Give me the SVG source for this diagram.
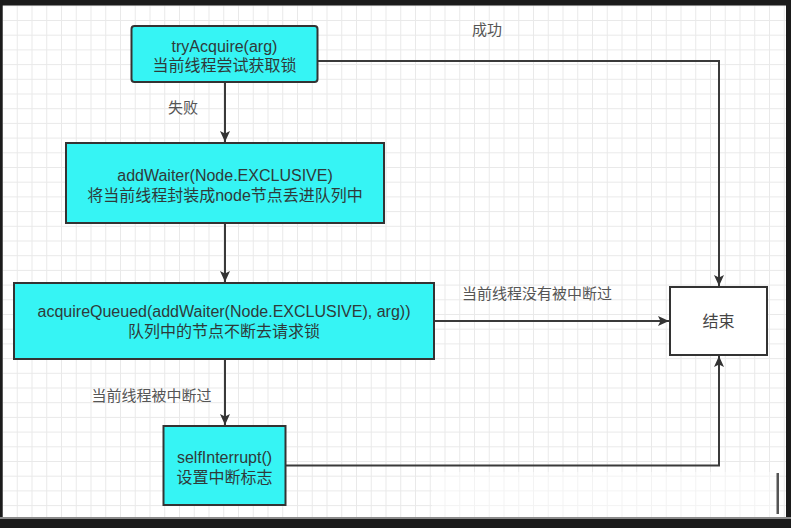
<svg xmlns="http://www.w3.org/2000/svg" width="791" height="528" viewBox="0 0 791 528">
<style>
.box{fill:#36F4F4;stroke:#333;stroke-width:2}
.end{fill:#fff;stroke:#333;stroke-width:2}
.t{font-family:"Liberation Sans","Noto Sans CJK SC",sans-serif;font-size:16px;fill:#2f3a3a;text-anchor:middle}
.lbl{font-family:"Liberation Sans","Noto Sans CJK SC",sans-serif;font-size:15px;fill:#555;text-anchor:middle}
.c{fill:none;stroke:#3a3a3a;stroke-width:2}
</style>
<defs>
<pattern id="grid" x="2" y="5.3" width="14.75" height="14.7" patternUnits="userSpaceOnUse">
<path d="M0.5,0 V14.7 M0,0.5 H14.75" fill="none" stroke="#e9e9e9" stroke-width="1"/>
</pattern>
<marker id="arr" markerUnits="userSpaceOnUse" markerWidth="12" markerHeight="12" viewBox="0 0 12 10" refX="11" refY="5" orient="auto">
<path d="M0,0 L11,5 L0,10 L2.5,5 Z" fill="#333"/>
</marker>
</defs>
<rect x="0" y="0" width="791" height="528" fill="#fff"/>
<rect x="0" y="0" width="791" height="528" fill="url(#grid)"/>
<rect x="432" y="472" width="348" height="45" fill="#fff" opacity="0.45"/>
<rect x="776.5" y="473" width="2.5" height="41" fill="#555"/>

<g id="connectors">
<path class="c" d="M225,82 V142" marker-end="url(#arr)"/>
<path class="c" d="M225,223 V282" marker-end="url(#arr)"/>
<path class="c" d="M225,359 V425" marker-end="url(#arr)"/>
<path class="c" d="M434,321 H669" marker-end="url(#arr)"/>
<path class="c" d="M317,61 H719 V286" marker-end="url(#arr)"/>
<path class="c" d="M286,465.5 H719 V356" marker-end="url(#arr)"/>
<text class="lbl" x="487" y="35">成功</text>
<text class="lbl" x="183" y="113">失败</text>
<text class="lbl" x="537" y="299">当前线程没有被中断过</text>
<text class="lbl" x="151.5" y="401">当前线程被中断过</text>
</g>

<g id="tryAcquire">
<rect class="box" x="131.5" y="26" width="186" height="56" rx="3"/>
<text class="t" x="224.5" y="52">tryAcquire(arg)</text>
<text class="t" x="224.5" y="71">当前线程尝试获取锁</text>
</g>
<g id="addWaiter">
<rect class="box" x="66" y="143" width="318" height="80"/>
<text class="t" x="225" y="181">addWaiter(Node.EXCLUSIVE)</text>
<text class="t" x="225" y="201">将当前线程封装成node节点丢进队列中</text>
</g>
<g id="acquireQueued">
<rect class="box" x="14" y="283" width="420" height="76"/>
<text class="t" x="224" y="317">acquireQueued(addWaiter(Node.EXCLUSIVE), arg))</text>
<text class="t" x="224" y="337">队列中的节点不断去请求锁</text>
</g>
<g id="selfInterrupt">
<rect class="box" x="163.5" y="426" width="122" height="79"/>
<text class="t" x="224.5" y="463">selfInterrupt()</text>
<text class="t" x="224.5" y="483">设置中断标志</text>
</g>
<g id="end">
<rect class="end" x="670" y="287" width="97" height="68"/>
<text class="t" x="718.5" y="327" style="fill:#444">结束</text>
</g>

<g id="frame">
<rect x="0" y="0" width="791" height="5.5" fill="#1b1b1b"/>
<rect x="0" y="0" width="2.7" height="528" fill="#1b1b1b"/>
<rect x="786" y="0" width="5" height="528" fill="#1b1b1b"/>
<rect x="0" y="517" width="791" height="2" fill="#8a8a8a"/>
<rect x="0" y="519" width="791" height="9" fill="#1b1b1b"/>
</g>
</svg>
